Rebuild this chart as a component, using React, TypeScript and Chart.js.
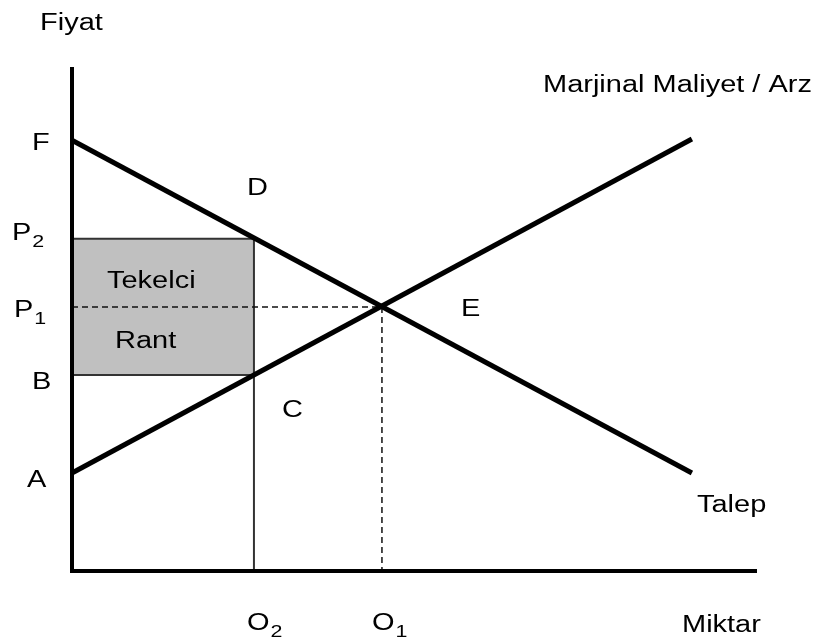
import React, { useEffect, useRef } from "react";
import { Chart, registerables } from "chart.js";

Chart.register(...registerables);

// ---- Data ----
const lineQuantities = [0, 20];            // both curves span Q = 0 .. 20
const demandPrices = [13.05, 2.97];        // Talep
const supplyPrices = [2.97, 13.09];        // Marjinal Maliyet / Arz
const equilibriumQ = 10;                   // O1
const equilibriumP = 8;                    // P1
const monopolyQ = 5.87;                    // O2
const monopolyP = 10.07;                   // P2
const costAtMonopolyQ = 5.94;              // B
const axisMaxQ = 22.1;
const axisMaxP = 15.27;

const priceTickNames = ["F", "P", "P", "B", "A"];
const priceTickSubs = ["", "2", "1", "", ""];
const priceTickValues = [13.05, 10.07, 8, 5.94, 2.97];
const quantityTickNames = ["O", "O"];
const quantityTickSubs = ["2", "1"];
const quantityTickValues = [5.87, 10];

const FONT = '"Liberation Sans", Arial, sans-serif';
const FONT_SIZE = 23;
const SUB_SIZE = 17;
const STRETCH = 1.26;

function drawStretched(ctx: CanvasRenderingContext2D, text: string, x: number, y: number, size: number) {
  ctx.save();
  ctx.font = `${size}px ${FONT}`;
  ctx.textAlign = "left";
  ctx.textBaseline = "alphabetic";
  ctx.fillStyle = "#000";
  ctx.translate(x, y);
  ctx.scale(STRETCH, 1);
  ctx.fillText(text, 0, 0);
  const w = ctx.measureText(text).width * STRETCH;
  ctx.restore();
  return w;
}

function drawLabel(ctx: CanvasRenderingContext2D, main: string, sub: string, x: number, y: number) {
  const w = drawStretched(ctx, main, x, y, FONT_SIZE);
  if (sub) drawStretched(ctx, sub, x + w + 1, y + 7, SUB_SIZE);
}

const labelPlugin = {
  id: "diagramLabels",
  afterDatasetsDraw(chart: any) {
    const ctx = chart.ctx as CanvasRenderingContext2D;
    const xs = chart.scales.x;
    const ys = chart.scales.y;
    const px = (v: number) => xs.getPixelForValue(v);
    const py = (v: number) => ys.getPixelForValue(v);

    // price-axis labels (hand placed like the original)
    const yLabelX = [32, 12, 14, 32, 27];
    const yLabelDy = [10, 1, 10, 14, 14];
    priceTickNames.forEach((n, i) => {
      drawLabel(ctx, n, priceTickSubs[i], yLabelX[i], py(priceTickValues[i]) + yLabelDy[i]);
    });
    // quantity-axis labels
    const xLabelDx = [-7, -10];
    const xBase = py(0) + 59;
    quantityTickNames.forEach((n, i) => {
      drawLabel(ctx, n, quantityTickSubs[i], px(quantityTickValues[i]) + xLabelDx[i], xBase);
    });

    // axis titles
    drawLabel(ctx, "Fiyat", "", 40, 30);
    drawLabel(ctx, "Miktar", "", 682, xBase + 2);

    // curve names
    drawLabel(ctx, "Marjinal Maliyet / Arz", "", 543, 92);
    drawLabel(ctx, "Talep", "", 697, 512);

    // region letters
    drawLabel(ctx, "D", "", px(monopolyQ) - 7, py(monopolyP) - 44);
    drawLabel(ctx, "C", "", px(monopolyQ) + 28, py(costAtMonopolyQ) + 42);
    drawLabel(ctx, "E", "", px(equilibriumQ) + 79, py(equilibriumP) + 9);
    drawLabel(ctx, "Tekelci", "", px(0) + 35, py(equilibriumP) - 19);
    drawLabel(ctx, "Rant", "", px(0) + 43, py(equilibriumP) + 41);
  },
};

export default function App() {
  const ref = useRef<HTMLCanvasElement | null>(null);

  useEffect(() => {
    if (!ref.current) return;
    const pts = (qs: number[], ps: number[]) => qs.map((q, i) => ({ x: q, y: ps[i] }));

    const chart = new Chart(ref.current, {
      type: "line",
      data: {
        datasets: [
          {
            // axes
            data: [
              { x: 0, y: axisMaxP },
              { x: 0, y: 0 },
              { x: axisMaxQ, y: 0 },
            ],
            borderColor: "#000",
            borderWidth: 4,
            borderJoinStyle: "miter",
            pointRadius: 0,
            fill: false,
            clip: false as any,
          },
          {
            // demand
            data: pts(lineQuantities, demandPrices),
            borderColor: "#000",
            borderWidth: 5,
            pointRadius: 0,
            fill: false,
            clip: false as any,
          },
          {
            // supply
            data: pts(lineQuantities, supplyPrices),
            borderColor: "#000",
            borderWidth: 5,
            pointRadius: 0,
            fill: false,
            clip: false as any,
          },
          {
            // dashed guides to equilibrium
            data: [
              { x: 0, y: equilibriumP },
              { x: equilibriumQ, y: equilibriumP },
              { x: equilibriumQ, y: 0 },
            ],
            borderColor: "#111",
            borderWidth: 1.5,
            borderDash: [6, 4],
            pointRadius: 0,
            fill: false,
            clip: false as any,
          },
          {
            // rectangle outline + O2 drop line
            data: [
              { x: 0, y: costAtMonopolyQ },
              { x: monopolyQ, y: costAtMonopolyQ },
              { x: monopolyQ, y: 0 },
              { x: monopolyQ, y: monopolyP },
              { x: 0, y: monopolyP },
            ],
            borderColor: "#333",
            borderWidth: 2,
            pointRadius: 0,
            fill: false,
            clip: false as any,
          },
          {
            // rent area top
            data: [
              { x: 0, y: monopolyP },
              { x: monopolyQ, y: monopolyP },
            ],
            borderWidth: 0,
            borderColor: "rgba(0,0,0,0)",
            backgroundColor: "#c0c0c0",
            pointRadius: 0,
            fill: "+1",
          },
          {
            // rent area bottom
            data: [
              { x: 0, y: costAtMonopolyQ },
              { x: monopolyQ, y: costAtMonopolyQ },
            ],
            borderWidth: 0,
            borderColor: "rgba(0,0,0,0)",
            pointRadius: 0,
            fill: false,
          },
        ] as any,
      },
      options: {
        animation: false,
        responsive: false,
        devicePixelRatio: 1,
        layout: { padding: { left: 72, top: 67, right: 59, bottom: 70 } },
        plugins: { legend: { display: false }, tooltip: { enabled: false } },
        events: [],
        scales: {
          x: { type: "linear", min: 0, max: axisMaxQ, display: false },
          y: { type: "linear", min: 0, max: axisMaxP, display: false },
        },
      },
      plugins: [labelPlugin],
    });
    return () => chart.destroy();
  }, []);

  return (
    <div style={{ position: "fixed", left: 0, top: 0, width: 816, height: 641, background: "#fff" }}>
      <canvas ref={ref} width={816} height={641} style={{ width: 816, height: 641, display: "block" }} />
    </div>
  );
}
